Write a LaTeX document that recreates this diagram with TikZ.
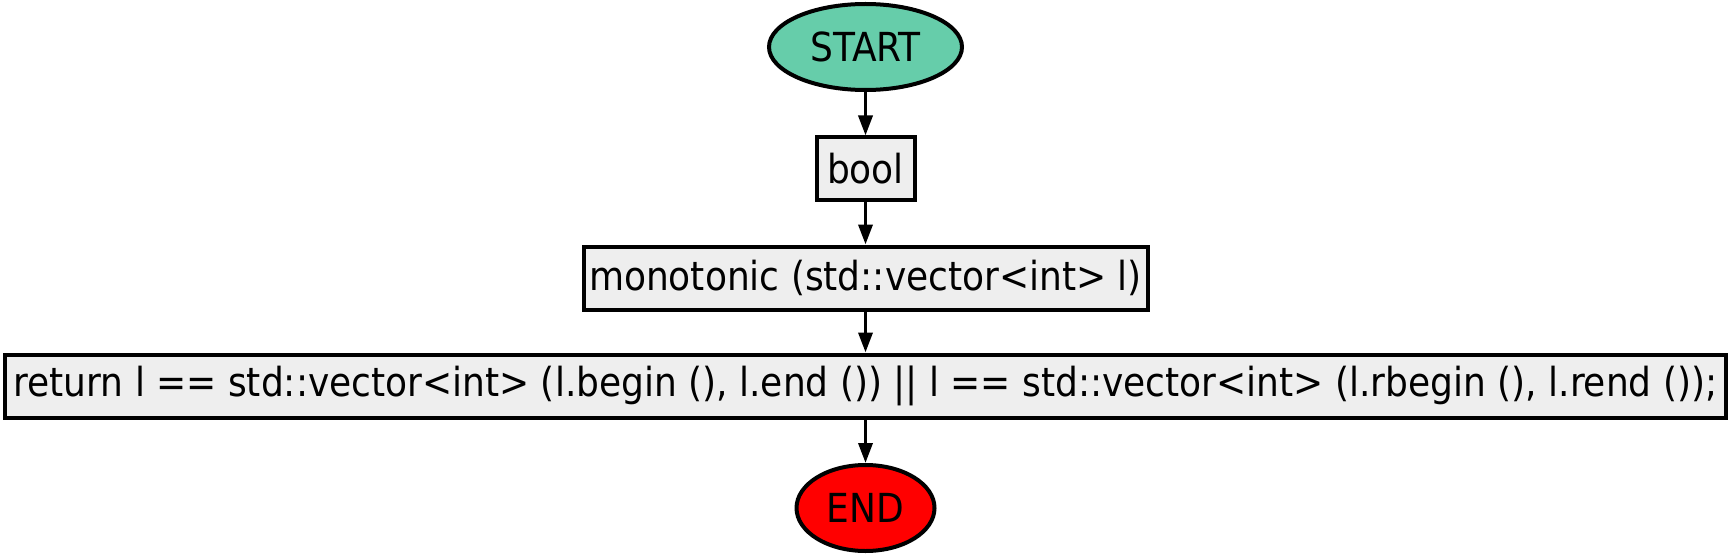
\documentclass[tikz,border=0pt]{standalone}
\usepackage{fontspec}
\setmainfont{DejaVu Sans Condensed}
\usetikzlibrary{arrows.meta,shapes.geometric}
\definecolor{startc}{HTML}{66CDAA}
\definecolor{boxc}{HTML}{EEEEEE}
\begin{document}
\begin{tikzpicture}[x=1pt,y=-1pt,
  every node/.style={font=\fontsize{40}{42}\selectfont, line width=4pt, draw=black, inner sep=0pt},
  term/.style={ellipse},
  stepbox/.style={rectangle, fill=boxc, minimum height=63pt},
  conn/.style={line width=3.5pt, -{Triangle[length=20pt,width=14pt]}}]
\useasboundingbox (0,0) rectangle (1731,556);
\node[term, fill=startc, minimum width=193pt, minimum height=86pt] (start) at (865.5,47) {START};
\node[stepbox, minimum width=98pt] (b) at (865.5,169) {bool};
\node[stepbox, minimum width=564pt] (m) at (865.5,278) {monotonic (std::vector<int> l)};
\node[stepbox, minimum width=1721pt] (r) at (865.5,386) {return l == std::vector<int> (l.begin (), l.end ()) || l == std::vector<int> (l.rbegin (), l.rend ());};
\node[term, fill=red, minimum width=138pt, minimum height=86pt] (e) at (865.5,508) {END};
\draw[conn] (start) -- (b);
\draw[conn] (b) -- (m);
\draw[conn] (m) -- (r);
\draw[conn] (r) -- (e);
\end{tikzpicture}
\end{document}
